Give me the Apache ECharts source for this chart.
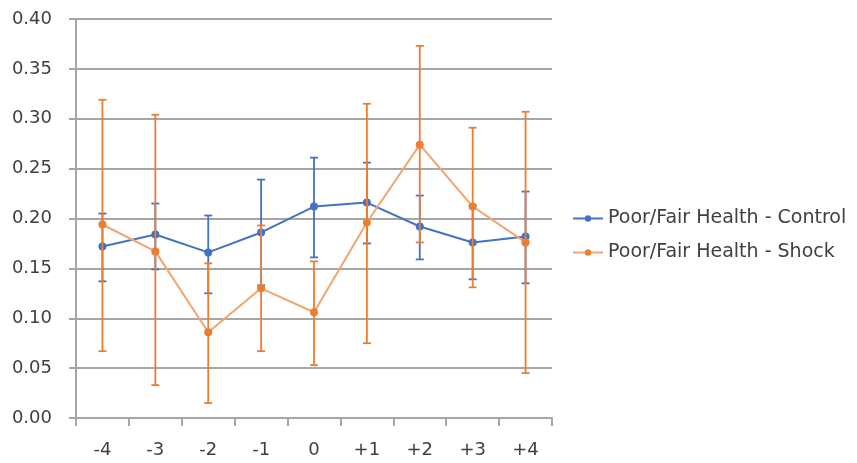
<!DOCTYPE html>
<html><head><meta charset="utf-8">
<script src="https://cdn.jsdelivr.net/npm/echarts@6/dist/echarts.min.js"></script>
<style>html,body{margin:0;padding:0;background:#fff}#c{width:857px;height:463px}</style>
</head><body><div id="c"></div>
<script>
var categories = ['-4','-3','-2','-1','0','+1','+2','+3','+4'];
var yTicks = [0,0.05,0.10,0.15,0.20,0.25,0.30,0.35,0.40];
var controlMean = [0.172,0.184,0.166,0.186,0.212,0.216,0.192,0.176,0.182];
var controlLow  = [0.137,0.149,0.125,0.133,0.161,0.175,0.159,0.139,0.135];
var controlHigh = [0.205,0.215,0.203,0.239,0.261,0.256,0.223,0.213,0.227];
var shockMean = [0.194,0.167,0.086,0.130,0.106,0.196,0.274,0.212,0.176];
var shockLow  = [0.067,0.033,0.015,0.067,0.053,0.075,0.176,0.131,0.045];
var shockHigh = [0.319,0.304,0.155,0.193,0.157,0.315,0.373,0.291,0.307];

var BLUE = '#4472C4', ORANGE = '#ED7D31';

function errData(low, high){
  return categories.map(function(c,i){ return [i, low[i], high[i]]; });
}
function errSeries(name, low, high, color, z){
  return {
    type:'custom', name:name+'_err', z:z, silent:true,
    data: errData(low, high),
    encode:{x:0,y:[1,2]},
    renderItem:function(params, api){
      var x = api.value(0);
      var lo = api.coord([x, api.value(1)]);
      var hi = api.coord([x, api.value(2)]);
      var w = 4;
      var st = {stroke:color, lineWidth:1.8};
      return {type:'group', children:[
        {type:'line', shape:{x1:lo[0],y1:lo[1],x2:hi[0],y2:hi[1]}, style:st},
        {type:'line', shape:{x1:lo[0]-w,y1:lo[1],x2:lo[0]+w,y2:lo[1]}, style:st},
        {type:'line', shape:{x1:hi[0]-w,y1:hi[1],x2:hi[0]+w,y2:hi[1]}, style:st}
      ]};
    }
  };
}

var chart = echarts.init(document.getElementById('c'), null, {renderer:'canvas'});
chart.setOption({
  animation:false,
  backgroundColor:'#fff',
  textStyle:{fontFamily:'DejaVu Sans'},
  grid:{left:76, right:305, top:19, bottom:45, containLabel:false},
  legend:{
    orient:'vertical', left:567, top:204, itemGap:15, itemWidth:30, itemHeight:8,
    data:['Poor/Fair Health - Control','Poor/Fair Health - Shock'],
    textStyle:{fontSize:19, color:'#404040', fontFamily:'DejaVu Sans'}
  },
  xAxis:{
    type:'category', data:categories, boundaryGap:true,
    axisLine:{show:true, lineStyle:{color:'#A6A6A6', width:2}},
    axisTick:{show:true, alignWithLabel:false, length:8, lineStyle:{color:'#A6A6A6', width:2}},
    axisLabel:{fontSize:18, color:'#404040', margin:23}
  },
  yAxis:{
    type:'value', min:0, max:0.40, interval:0.05,
    axisLine:{show:true, lineStyle:{color:'#A6A6A6', width:2}},
    axisTick:{show:true, length:7, lineStyle:{color:'#A6A6A6', width:2}},
    splitLine:{show:true, lineStyle:{color:'#A6A6A6', width:2}},
    axisLabel:{fontSize:18, color:'#404040', margin:24,
      formatter:function(v){ return v.toFixed(2); }}
  },
  series:[
    {name:'Poor/Fair Health - Control', type:'line', data:controlMean, z:3,
     symbol:'circle', symbolSize:8, itemStyle:{color:BLUE},
     lineStyle:{color:BLUE, width:2}},
    errSeries('control', controlLow, controlHigh, BLUE, 4),
    {name:'Poor/Fair Health - Shock', type:'line', data:shockMean, z:5,
     symbol:'circle', symbolSize:8, itemStyle:{color:ORANGE},
     lineStyle:{color:'#F4A46E', width:2}},
    errSeries('shock', shockLow, shockHigh, ORANGE, 6)
  ]
});
</script></body></html>
